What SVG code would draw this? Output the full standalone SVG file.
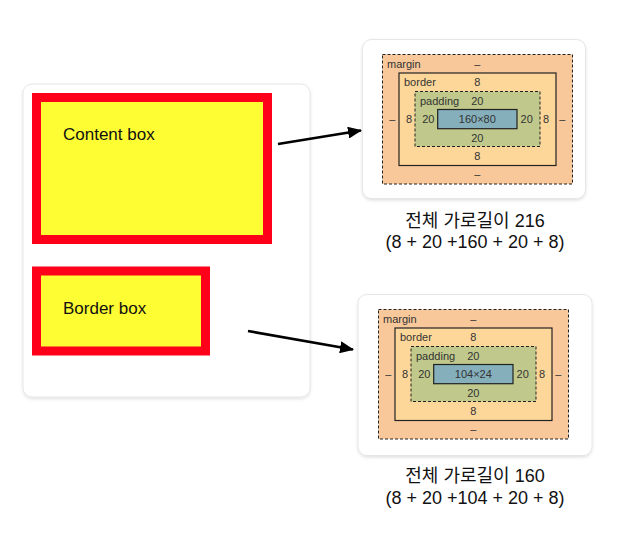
<svg xmlns="http://www.w3.org/2000/svg" width="627" height="535" viewBox="0 0 627 535">
<style>
.card{fill:#ffffff;stroke:#e6e6e6;stroke-width:1}
.red{fill:#fefc33;stroke:#fe0019;stroke-width:9}
.lbl{font-family:"Liberation Sans",Arial,sans-serif;font-size:17px;fill:#111}
.m{fill:#f8c89b;stroke:#222;stroke-width:1;stroke-dasharray:3,2}
.b{fill:#fdd79a;stroke:#222;stroke-width:1.2}
.p{fill:#c0c98b;stroke:#222;stroke-width:1;stroke-dasharray:3,2}
.c{fill:#84afbb;stroke:#222;stroke-width:1.2}
.t{font-family:"Liberation Sans",Arial,sans-serif;font-size:11px;fill:#333}
.tc{font-family:"Liberation Sans",Arial,sans-serif;font-size:11px;fill:#333;text-anchor:middle}
.cap{font-family:"Liberation Sans","Noto Sans CJK KR",sans-serif;font-size:18px;fill:#111;text-anchor:middle}
.conn{stroke:#000;stroke-width:2.6;fill:none}
</style>
<defs>
<filter id="sh" x="-10%" y="-10%" width="120%" height="125%">
<feDropShadow dx="0" dy="1.5" stdDeviation="1.5" flood-color="#000" flood-opacity="0.12"/>
</filter>
<marker id="ah" markerUnits="userSpaceOnUse" markerWidth="14" markerHeight="12" refX="13" refY="6" orient="auto">
<path d="M0,0 L14,6 L0,12 z" fill="#000"/>
</marker>
<g id="boxmodel">
<rect class="m" x="382.5" y="54.5" width="190" height="129.5"/>
<rect class="b" x="399" y="73" width="157" height="92.5"/>
<rect class="p" x="415" y="91.5" width="125" height="55"/>
<rect class="c" x="437.7" y="109.5" width="79.3" height="19.2"/>
<text class="t" x="387" y="67.5">margin</text>
<text class="tc" x="477.3" y="67.5">–</text>
<text class="t" x="404" y="86">border</text>
<text class="tc" x="477.3" y="86">8</text>
<text class="t" x="420" y="104.5">padding</text>
<text class="tc" x="477.3" y="104.5">20</text>
<text class="tc" x="392.3" y="123">–</text>
<text class="tc" x="409" y="123">8</text>
<text class="tc" x="428.3" y="123">20</text>
<text class="tc" x="526.7" y="123">20</text>
<text class="tc" x="546" y="123">8</text>
<text class="tc" x="562.3" y="123">–</text>
<text class="tc" x="477.3" y="141.5">20</text>
<text class="tc" x="477.3" y="159.5">8</text>
<text class="tc" x="477.3" y="178">–</text>
</g>
</defs>
<g id="left-card">
<rect class="card" x="23" y="84" width="287" height="313" rx="9" filter="url(#sh)"/>
</g>
<g id="content-box">
<rect class="red" x="36.5" y="97.5" width="231" height="142"/>
<text class="lbl" x="63" y="140">Content box</text>
</g>
<g id="border-box">
<rect class="red" x="36.5" y="271" width="169" height="80"/>
<text class="lbl" x="63" y="313.5">Border box</text>
</g>
<g id="connectors">
<line class="conn" x1="278" y1="144" x2="361" y2="130.5" marker-end="url(#ah)"/>
<line class="conn" x1="248" y1="331" x2="353" y2="349.5" marker-end="url(#ah)"/>
</g>
<g id="content-box-model">
<rect class="card" x="362.5" y="39.5" width="223" height="159" rx="9" filter="url(#sh)"/>
<use href="#boxmodel"/>
<text class="tc" x="477.3" y="123">160×80</text>
<text class="cap" x="475" y="226.5">전체 가로길이 216</text>
<text class="cap" x="475" y="247.5">(8 + 20 +160 + 20 + 8)</text>
</g>
<g id="border-box-model">
<rect class="card" x="358" y="294.5" width="234" height="161" rx="9" filter="url(#sh)"/>
<use href="#boxmodel" transform="translate(-4,255)"/>
<text class="tc" x="473.3" y="378">104×24</text>
<text class="cap" x="475" y="482">전체 가로길이 160</text>
<text class="cap" x="475" y="503.5">(8 + 20 +104 + 20 + 8)</text>
</g>
</svg>
